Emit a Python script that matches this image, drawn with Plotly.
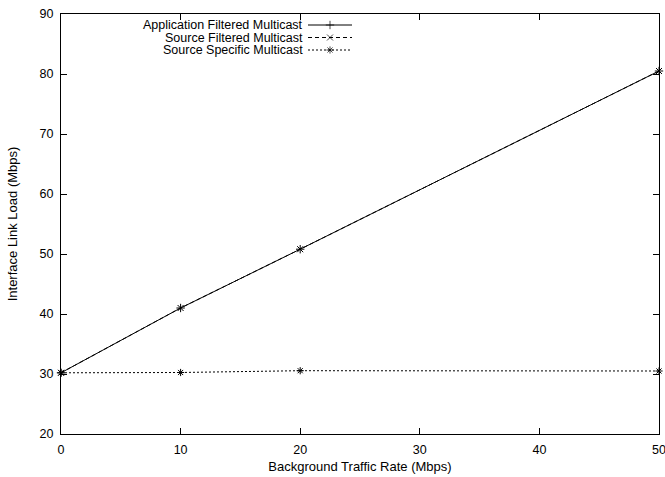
import plotly.graph_objects as go

# Data
rates = [0, 10, 20, 50]
afm = [30.2, 41.0, 50.8, 80.5]
sfm = [30.2, 41.0, 50.8, 80.5]
ssm = [30.2, 30.25, 30.55, 30.5]

series_names = ["Application Filtered Multicast", "Source Filtered Multicast", "Source Specific Multicast"]
x_ticks = [0, 10, 20, 30, 40, 50]
y_ticks = [20, 30, 40, 50, 60, 70, 80, 90]

FONT = "Liberation Sans, Arial, Helvetica, sans-serif"
W, H = 665, 477
L, R, T, B = 61, 6, 14, 43

styles = [
    dict(dash="solid", symbol="cross-thin-open"),
    dict(dash="4px,3px", symbol="x-thin-open"),
    dict(dash="2px,2px", symbol="asterisk-open"),
]

fig = go.Figure()
for name, ys, st in zip(series_names, [afm, sfm, ssm], styles):
    fig.add_trace(go.Scatter(
        x=rates, y=ys, mode="lines+markers", name=name,
        line=dict(color="black", width=1, dash=st["dash"]),
        marker=dict(symbol=st["symbol"], size=6, color="black",
                    line=dict(color="black", width=1)),
        showlegend=False, cliponaxis=False,
    ))

# Legend (gnuplot style: text right-aligned, sample to the right)
plot_w = W - L - R
plot_h = H - T - B
def px(xp):
    return (xp - L) / plot_w
def py(yp):
    return (H - B - yp) / plot_h

legend_rows = [25, 37.5, 50]
for name, st, row in zip(series_names, styles, legend_rows):
    yy = py(row)
    fig.add_trace(go.Scatter(
        x=[px(308), px(330), px(352)], y=[yy, yy, yy],
        xaxis="x2", yaxis="y2", mode="lines+markers",
        line=dict(color="black", width=1, dash=st["dash"]),
        marker=dict(symbol=st["symbol"], size=[0, 6, 0], color="black",
                    line=dict(color="black", width=1)),
        showlegend=False, hoverinfo="skip",
    ))
    fig.add_annotation(
        x=px(305), y=yy, xref="paper", yref="paper", text=name,
        showarrow=False, xanchor="right", yanchor="middle",
        font=dict(family=FONT, size=12.5, color="black"),
    )

axis_common = dict(
    showline=True, linecolor="black", linewidth=1, mirror="ticks",
    ticks="inside", ticklen=6, tickwidth=1, tickcolor="black",
    showgrid=False, zeroline=False, ticklabeloverflow="allow",
    tickfont=dict(family=FONT, size=12.5, color="black"),
)

fig.update_layout(
    width=W, height=H,
    margin=dict(l=L, r=R, t=T, b=B, autoexpand=False),
    paper_bgcolor="white", plot_bgcolor="white",
    xaxis=dict(range=[0, 50], tickvals=x_ticks, ticklabelstandoff=4,
               title=dict(text="Background Traffic Rate (Mbps)",
                          font=dict(family=FONT, size=13, color="black"), standoff=5),
               **axis_common),
    yaxis=dict(range=[20, 90], tickvals=y_ticks, ticklabelstandoff=4,
               title=dict(text="Interface Link Load (Mbps)",
                          font=dict(family=FONT, size=13, color="black"), standoff=19),
               **axis_common),
    xaxis2=dict(range=[0, 1], overlaying="x", visible=False),
    yaxis2=dict(range=[0, 1], overlaying="y", visible=False),
    showlegend=False,
)

fig.write_html("out.html", config={"displayModeBar": False},
               post_script="document.body.style.margin='0';")
